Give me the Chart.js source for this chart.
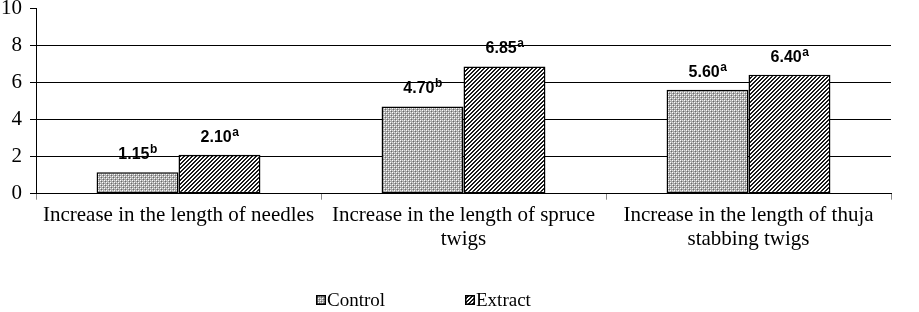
<!DOCTYPE html>
<html>
<head>
<meta charset="utf-8">
<script src="https://cdn.jsdelivr.net/npm/chart.js@4"></script>
<style>
html,body{margin:0;padding:0;background:#fff;}
#wrap{width:919px;height:312px;}
</style>
</head>
<body>
<div id="wrap"><canvas id="c" width="919" height="312"></canvas></div>
<script>
const categories = [
  ["Increase in the length of needles"],
  ["Increase in the length of spruce", "twigs"],
  ["Increase in the length of thuja", "stabbing twigs"]
];
const seriesNames = ["Control", "Extract"];
const controlValues = [1.15, 4.70, 5.60];
const extractValues = [2.10, 6.85, 6.40];
const controlLetters = ["b", "b", "a"];
const extractLetters = ["a", "a", "a"];
const yTicks = [0, 2, 4, 6, 8, 10];

const SERIF = '"Liberation Serif", "Times New Roman", serif';
const SANS = '"Liberation Sans", Arial, sans-serif';

function patternFrom(p) {
  return document.createElement('canvas').getContext('2d').createPattern(p, 'repeat');
}
function makeControlPattern() {
  const p = document.createElement('canvas');
  p.width = 4; p.height = 4;
  const g = p.getContext('2d');
  g.fillStyle = '#a8a8a8'; g.fillRect(0, 0, 4, 4);
  g.fillStyle = '#ffffff';
  g.fillRect(0, 0, 1, 1); g.fillRect(2, 2, 1, 1);
  g.fillStyle = '#e0e0e0';
  g.fillRect(2, 0, 1, 1); g.fillRect(0, 2, 1, 1);
  g.fillStyle = '#6a6a6a';
  g.fillRect(1, 1, 1, 1); g.fillRect(3, 3, 1, 1);
  return patternFrom(p);
}
function makeExtractPattern() {
  const p = document.createElement('canvas');
  p.width = 4; p.height = 4;
  const g = p.getContext('2d');
  g.fillStyle = '#ffffff'; g.fillRect(0, 0, 4, 4);
  g.fillStyle = '#1a1a1a';
  for (let i = 0; i < 4; i++) {
    g.fillRect(i, 3 - i, 1, 1);
    g.fillRect((i + 1) % 4, 3 - i, 1, 1);
  }
  return patternFrom(p);
}
const controlFill = makeControlPattern();
const extractFill = makeExtractPattern();

const labelPlugin = {
  id: 'valueLabels',
  afterDatasetsDraw(chart) {
    const ctx = chart.ctx;
    const letters = [controlLetters, extractLetters];
    chart.data.datasets.forEach((ds, di) => {
      const meta = chart.getDatasetMeta(di);
      meta.data.forEach((bar, i) => {
        const txt = ds.data[i].toFixed(2);
        const sup = letters[di][i];
        ctx.save();
        ctx.fillStyle = '#000';
        ctx.textBaseline = 'alphabetic';
        ctx.textAlign = 'left';
        ctx.font = 'bold 16px ' + SANS;
        const w1 = ctx.measureText(txt).width;
        ctx.font = 'bold 12px ' + SANS;
        const w2 = ctx.measureText(sup).width;
        const x0 = bar.x - (w1 + w2) / 2;
        const yb = bar.y - 13;
        ctx.font = 'bold 16px ' + SANS;
        ctx.fillText(txt, x0, yb);
        ctx.font = 'bold 12px ' + SANS;
        ctx.fillText(sup, x0 + w1 + 0.5, yb - 6);
        ctx.restore();
      });
    });
  }
};

const legendPlugin = {
  id: 'bottomLegend',
  afterDraw(chart) {
    const ctx = chart.ctx;
    const xs = [316, 465];
    const y = 295;
    chart.data.datasets.forEach((ds, i) => {
      ctx.save();
      ctx.fillStyle = ds.backgroundColor;
      ctx.fillRect(xs[i], y, 10, 10);
      ctx.strokeStyle = '#000';
      ctx.lineWidth = 1.5;
      ctx.strokeRect(xs[i] + 0.75, y + 0.75, 8.5, 8.5);
      ctx.fillStyle = '#000';
      ctx.font = '19px ' + SERIF;
      ctx.textBaseline = 'alphabetic';
      ctx.textAlign = 'left';
      ctx.fillText(ds.label, xs[i] + 11, y + 11);
      ctx.restore();
    });
  }
};

new Chart(document.getElementById('c'), {
  type: 'bar',
  data: {
    labels: categories,
    datasets: [
      { label: seriesNames[0], data: controlValues, backgroundColor: controlFill, borderColor: '#000', borderWidth: 1.5, borderSkipped: false },
      { label: seriesNames[1], data: extractValues, backgroundColor: extractFill, borderColor: '#000', borderWidth: 1.5, borderSkipped: false }
    ]
  },
  options: {
    responsive: false,
    animation: false,
    devicePixelRatio: 1,
    layout: { padding: { left: 0, right: 28, top: 8, bottom: 56 } },
    datasets: { bar: { categoryPercentage: 0.575, barPercentage: 1.0 } },
    scales: {
      x: {
        grid: { drawOnChartArea: false, offset: true, color: '#000', tickLength: 6, tickColor: '#888' },
        border: { color: '#000', width: 1 },
        ticks: { color: '#000', font: { family: SERIF, size: 21, lineHeight: 1.15 }, padding: 4, maxRotation: 0, autoSkip: false }
      },
      y: {
        min: 0, max: 10,
        afterBuildTicks(axis) { axis.ticks = yTicks.map(v => ({ value: v })); },
        afterFit(scale) { scale.paddingTop = 0; scale.paddingBottom = 0; scale.width = 36; },
        grid: {
          color: (c) => (c.tick && c.tick.value === 10) ? 'rgba(0,0,0,0)' : '#000',
          tickColor: '#000', tickLength: 6, lineWidth: 1
        },
        border: { color: '#000', width: 1 },
        ticks: { color: '#000', font: { family: SERIF, size: 21 }, padding: 8 }
      }
    },
    plugins: {
      legend: { display: false },
      tooltip: { enabled: false }
    }
  },
  plugins: [labelPlugin, legendPlugin]
});
</script>
</body>
</html>
